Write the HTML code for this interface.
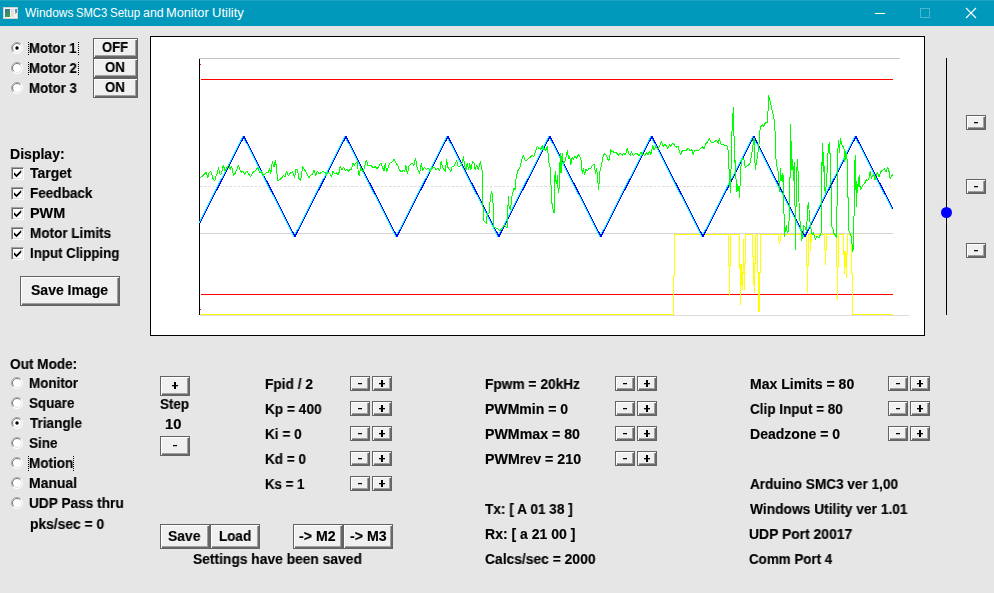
<!DOCTYPE html>
<html><head><meta charset="utf-8"><title>Windows SMC3 Setup and Monitor Utility</title><style>

html,body{margin:0;padding:0}
body{width:994px;height:593px;overflow:hidden;position:relative;background:#e6e6e6;font-family:"Liberation Sans",sans-serif;}
.a{position:absolute}
.tb{left:0;top:0;width:994px;height:26px;background:#0099bc}
.t{position:absolute;white-space:nowrap;font-size:12px;line-height:20px;height:20px;color:#fff;transform-origin:0 0}
.l{position:absolute;white-space:nowrap;font-weight:bold;font-size:14px;line-height:20px;height:20px;color:#000;transform-origin:0 0;will-change:transform;-webkit-text-stroke:0.15px #000}
.btn{position:absolute;box-sizing:border-box;background:#f0f0f0;border:1px solid #646464;box-shadow:inset 1px 1px 0 0 #fff,inset -1px -1px 0 0 #696969,inset -2px -2px 0 0 #a0a0a0}
.cb{position:absolute;width:13px;height:13px;box-sizing:border-box;background:#fff;border:1px solid;border-color:#a0a0a0 #fff #fff #a0a0a0;box-shadow:inset 1px 1px 0 0 #696969,inset -1px -1px 0 0 #e3e3e3}
.chart{position:absolute;left:150px;top:36px;width:775px;height:300px;box-sizing:border-box;background:#fff;border:1px solid #000}

</style></head><body>
<div class="a tb"></div>
<div class="a" style="left:0;top:0;width:994px;height:1px;background:#1aa3c3"></div>
<svg class="a" style="left:3px;top:7px" width="16" height="13" viewBox="0 0 16 13"><defs><linearGradient id="ig" x1="0" y1="0" x2="0.6" y2="1"><stop offset="0" stop-color="#3a6ea5"/><stop offset="1" stop-color="#3f9c4a"/></linearGradient></defs><rect x="0.5" y="0.5" width="14" height="11" fill="#f4f4f4" stroke="#d8d0d0"/><rect x="2" y="2" width="5" height="8" fill="url(#ig)"/><rect x="8" y="2" width="3" height="8" fill="#e0e0e0"/><rect x="12" y="2" width="2" height="4" fill="#5b8fc7"/><rect x="12" y="5" width="1" height="2" fill="#7fc07f"/></svg>
<svg class="a" style="left:860px;top:0" width="134" height="26" viewBox="860 0 134 26"><rect x="875" y="13" width="10" height="1" fill="#fff"/><rect x="920.5" y="8.5" width="9" height="9" fill="none" stroke="#4db5cf" stroke-width="1"/><path d="M966 8 L976 18 M976 8 L966 18" stroke="#fff" stroke-width="1.1" fill="none"/></svg>
<div class="chart"></div>
<svg class="a" style="left:150px;top:36px" width="775" height="300" viewBox="150 36 775 300" shape-rendering="crispEdges">
<rect x="199" y="58" width="701" height="1" fill="#c4c4c4"/>
<rect x="199" y="59" width="1" height="256" fill="#000"/>
<rect x="200" y="315" width="709" height="1" fill="#dcdcdc"/>
<line x1="200" y1="186.5" x2="893" y2="186.5" stroke="#dedede" stroke-width="1" stroke-dasharray="2.6 1.6"/>
<rect x="200" y="233" width="693" height="1" fill="#d4d4d4"/>
<rect x="201" y="79" width="692" height="1" fill="#ff0000"/>
<rect x="201" y="294" width="692" height="1" fill="#ff0000"/>
<rect x="200" y="64" width="1" height="1" fill="#ff0000"/>
<rect x="200" y="309" width="1" height="1" fill="#ff0000"/>
</svg>
<svg class="a" style="left:150px;top:36px" width="775" height="300" viewBox="150 36 775 300">
<path d="M200 314.5 L673.5 314.5 L673.5 275 L674.5 275 L674.5 234.5 L728.5 234.5 L728.5 265 L729.5 265 L729.5 295.5 L729.5 265 L730.6 265 L730.6 234.5 L739.5 234.5 L739.5 268.7 L740.3 268.7 L740.3 304.8 L740.8 264.3 L741.3 285.7 L741.8 264.3 L742.3 285.7 L742.8 289.8 L743.4 239 L744.3 289.8 L744.3 262 L745.6 262 L745.6 234.5 L752.4 234.5 L752.4 256 L753.5 256 L753.5 284.6 L754 264 L754.5 292.8 L755 263 L755.6 263 L755.6 234.5 L757.3 234.5 L757.3 272.5 L758.3 272.5 L758.5 311.7 L759 272.5 L759.5 311.7 L759.8 272.5 L760.8 272.5 L760.8 234.5 L778.5 234.5 L778.5 238 L779.5 243.6 L780.5 238 L780.5 234.5 L806.3 234.5 L806.3 265.6 L807.4 265.6 L807.4 292.6 L807.4 265.6 L808.4 265.6 L808.4 234.5 L810.3 234.5 L810.3 251 L810.3 234.5 L811.5 234.5 L811.5 242 L811.5 234.5 L824.5 234.5 L824.5 249.8 L825.3 249.8 L825.3 264.9 L825.3 249.8 L826 249.8 L826 234.5 L836.4 234.5 L836.4 266.4 L837.5 266.4 L837.5 299.7 L837.5 266.4 L838.8 266.4 L838.8 234.5 L843.6 234.5 L844 254.5 L844.4 274.4 L844.8 251.4 L845.3 267.2 L845.8 251.4 L846.4 277.5 L846.8 254.5 L847.5 254.5 L847.5 234.5 L851.5 234.5 L851.5 273.6 L852.5 273.6 L852.5 314.5 L893 314.5" fill="none" stroke="#ffff00" stroke-width="1" stroke-linejoin="miter" shape-rendering="crispEdges"/>
<path d="M199 222.775 L243 136.5 L294 236.5 L345 136.5 L396 236.5 L447 136.5 L498 236.5 L549 136.5 L600 236.5 L651 136.5 L702 236.5 L753 136.5 L804 236.5 L855 136.5 L892 209.049" fill="none" stroke="#00ffff" stroke-width="1" stroke-linejoin="bevel" shape-rendering="crispEdges"/>
<path d="M200 222.775 L244 136.5 L295 236.5 L346 136.5 L397 236.5 L448 136.5 L499 236.5 L550 136.5 L601 236.5 L652 136.5 L703 236.5 L754 136.5 L805 236.5 L856 136.5 L893 209.049" fill="none" stroke="#0000ff" stroke-width="1" stroke-linejoin="bevel" shape-rendering="crispEdges"/>
<path d="M200.37 177.4 L203.49 175.28 L205.98 172.16 L207.85 177.77 L209.1 172.78 L210.97 171.53 L212.84 178.4 L214.71 180.89 L215.96 175.9 L217.21 174.03 L218.46 167.17 L220.33 175.28 L221.57 172.78 L223.45 164.67 L224.69 170.91 L226.56 168.42 L228.68 164.67 L230.31 169.66 L231.55 165.92 L233.43 175.28 L235.3 173.41 L238.42 164.67 L239.66 169.66 L241.53 172.16 L243.41 171.53 L244.9 174.65 L246.52 170.91 L248.4 173.41 L250.52 176.9 L252.14 173.41 L254.01 171.53 L255.88 170.29 L257.75 167.17 L259.62 172.78 L261.49 171.53 L263.37 175.28 L265.24 174.03 L266.48 172.16 L268.36 172.78 L269.6 168.42 L270.85 173.41 L272.35 161.55 L273.97 167.17 L275.47 159.68 L276.46 168.42 L277.71 180.89 L279.58 179.64 L281.45 178.4 L283.33 175.28 L285.2 177.15 L286.44 170.91 L288.32 175.9 L289.56 174.03 L291.43 172.16 L292.68 171.53 L294.55 177.77 L295.8 169.66 L297.3 169.04 L298.92 178.4 L300.54 180.89 L302.66 166.54 L304.53 169.66 L306.4 172.78 L308.9 177.77 L310.77 175.28 L312.64 174.03 L313.89 169.66 L315.76 175.9 L316 174.65 L317.5 170.91 L319.12 174.03 L320.99 172.78 L322.86 171.53 L324.73 172.16 L326.6 175.28 L327.85 172.16 L329.72 173.41 L331.59 176.52 L332.84 170.91 L334.71 174.03 L336.58 172.78 L338.46 175.28 L340.33 165.92 L341.57 170.29 L343.45 167.17 L345.32 170.29 L347.19 169.04 L348.68 171.53 L350.31 169.04 L351.55 169.66 L352.8 162.8 L354.05 165.3 L355.92 162.8 L357.17 161.55 L358.42 173.41 L359.41 175.9 L360.66 166.54 L362.16 171.53 L364.03 169.04 L365.28 163.43 L366.52 159.68 L367.77 165.92 L369.64 165.3 L371.51 165.92 L373.39 167.79 L375.26 166.54 L377.13 169.04 L379 165.92 L380.87 162.8 L382.74 167.79 L383.99 170.91 L385.24 163.43 L386.73 172.16 L388.36 166.54 L390.23 162.8 L392.1 162.18 L393.97 159.06 L395.84 162.8 L397.71 165.3 L398.96 169.04 L401.45 172.16 L403.33 170.29 L404.82 171.53 L405.82 164.67 L407.44 174.03 L408.94 165.92 L410.81 164.05 L412.68 163.43 L413.93 165.92 L415.43 157.81 L416.8 165.92 L418.3 170.91 L419.54 173.41 L421.41 162.8 L422.66 170.91 L424.53 167.17 L426.4 169.66 L428.28 167.79 L430.15 171.53 L432.02 168.42 L433.89 167.17 L435.76 169.04 L436 170.29 L437.87 168.42 L439.74 170.29 L441.24 160.93 L442.49 167.17 L444.11 169.66 L445.36 171.53 L446.6 159.06 L447.85 167.17 L449.72 169.66 L450.97 171.53 L452.22 166.54 L454.09 165.92 L455.96 162.18 L456.58 159.68 L457.83 165.92 L459.7 166.54 L461.57 164.67 L462.82 160.93 L463.45 156.56 L464.69 165.92 L465.94 170.29 L467.19 163.43 L468.68 169.66 L469.68 163.43 L470.93 169.66 L472.43 161.55 L474.05 162.8 L475.3 170.29 L476.54 165.3 L478.42 169.66 L480.29 161.55 L481.53 167.17 L482.41 172.16 L482.78 185.88 L483.16 219.94 L484.65 221.81 L486.52 223.68 L487.15 213.7 L489.02 213.08 L490.27 198.73 L491.51 191.25 L492.76 196.24 L493.39 212.46 L494.01 227.43 L495.88 228.05 L497.75 228.67 L499.87 230.54 L502.12 228.05 L503.99 225.55 L505.86 226.8 L507.11 227.43 L507.73 211.21 L508.36 196.24 L508.98 206.22 L510.23 209.96 L510.85 206.22 L512.1 194.99 L512.72 193.99 L513.59 188.38 L515.22 189.62 L515.84 180.89 L516.46 175.9 L517.71 170.91 L519.58 168.42 L520.83 163.43 L522.08 158.44 L523.33 155.32 L524.82 159.68 L526.44 160.93 L528.32 158.44 L530.19 157.19 L532.06 155.32 L533.93 156.56 L535.8 150.95 L537.3 145.96 L538.92 148.46 L540.79 149.08 L542.29 145.34 L543.53 150.33 L544.53 148.46 L545.78 150.95 L547.28 145.96 L548.28 155.94 L548.9 162.18 L550.15 167.17 L550.77 180.89 L551.39 190.87 L551.39 203.1 L552.64 203.72 L553.27 213.08 L554.26 212.46 L554.51 192.5 L555.14 170.91 L555.76 180.89 L556.62 183.39 L557.5 175.28 L558.25 193.37 L559.12 188.38 L559.74 168.42 L560.37 153.45 L560.99 173.41 L561.61 162.18 L562.24 152.82 L563.24 163.43 L564.73 162.18 L565.98 157.19 L567.48 150.33 L568.48 158.44 L569.72 156.56 L570.72 165.3 L572.22 157.19 L573.47 159.68 L574.71 155.94 L576.58 158.44 L578.46 154.69 L579.7 155.94 L580.95 159.68 L582.2 173.41 L583.45 168.42 L584.44 175.28 L585.94 169.66 L587.81 170.91 L589.06 167.79 L590.31 169.04 L592.18 165.92 L594.05 164.05 L595.67 174.03 L596.54 167.79 L597.79 179.64 L598.42 190.25 L599.04 183.39 L599.66 172.78 L600.91 167.17 L602.16 160.93 L603.41 155.32 L604.65 153.45 L606.52 155.94 L608.4 160.31 L609.64 159.06 L610.52 149.08 L612.14 151.57 L614.01 152.2 L616.5 152.82 L618.38 155.32 L620.25 152.82 L622.12 155.32 L623.99 152.82 L625.24 155.32 L627.36 148.46 L628.98 154.07 L630.23 155.32 L631.47 151.57 L633.35 155.32 L635.22 154.07 L637.09 153.45 L638.96 155.94 L640.83 152.2 L642.7 154.07 L644.57 155.32 L646.44 152.82 L648.32 154.69 L649.56 150.95 L650.81 155.32 L652.68 145.34 L653.93 149.7 L655.8 146.58 L657.67 149.08 L659.54 145.96 L661.41 141.59 L663.29 146.58 L665.16 144.09 L667.65 148.46 L669.52 144.71 L670.77 146.58 L672.64 142.84 L674.51 145.34 L676.38 147.21 L677.87 145.96 L679.12 150.33 L680.62 155.32 L682.24 150.95 L684.11 150.33 L685.98 150.95 L688.48 147.83 L690.35 150.95 L691.59 149.08 L693.22 154.69 L694.71 150.33 L696.58 150.95 L698.46 150.33 L700.33 148.46 L702.2 146.58 L704.07 149.08 L705.94 143.47 L707.81 141.59 L709.43 138.48 L710.93 142.22 L712.8 142.84 L714.67 141.59 L716.54 140.35 L718.17 143.47 L719.41 138.48 L721.16 144.71 L722.78 144.09 L724.65 145.34 L726.52 145.34 L727.77 147.21 L728.64 158.44 L729.02 169.04 L729.64 177.15 L730.27 193.37 L730.89 175.9 L731.51 142.22 L732.39 123.04 L733.39 106.82 L734.01 136.14 L734.38 163.43 L735.26 159.68 L735.88 175.9 L736.5 192.12 L737.38 184.01 L738 190.87 L739 185.88 L739.62 197.73 L740.25 179.64 L740.87 167.17 L741.49 160.93 L742.74 158.44 L743.99 159.68 L745.24 167.17 L747.11 165.92 L748.98 164.67 L750.23 162.8 L751.47 155.94 L752.72 147.21 L753.97 137.85 L754.59 150.95 L755.22 169.66 L756.46 162.18 L757.71 154.69 L758.96 144.71 L760.21 127.41 L762.7 124.29 L763.33 126.78 L765.2 123.04 L767.69 122.42 L768.07 108.69 L768.56 94.97 L769.56 99.96 L770.81 103.7 L772.06 109.94 L773.93 117.43 L775.18 133.64 L775.8 157.19 L777.05 167.17 L778.54 173.41 L779.54 192.12 L780.54 168.42 L781.41 180.89 L782.29 173.41 L783.04 182.14 L783.53 174.65 L783.91 204.97 L784.28 236.78 L785.16 231.17 L786.4 225.55 L787.28 233.04 L788.9 231.17 L789.52 178.4 L790.15 177.15 L790.52 124.29 L791.39 152.82 L792.02 169.66 L792.64 159.06 L793.89 180.89 L794.51 162.18 L795.51 249.88 L796.38 175.9 L797.63 159.06 L799.5 217.45 L800.95 227.43 L801.57 241.15 L802.82 234.91 L803.69 225.55 L805.32 227.43 L806.56 231.17 L807.19 217.45 L808.19 201.85 L809.06 209.96 L809.68 219.94 L810.93 228.67 L812.18 234.91 L813.43 232.42 L815.3 239.28 L817.17 236.16 L819.04 238.03 L820.66 233.66 L821.53 231.17 L821.53 184.63 L822.41 142.84 L823.16 172.16 L823.65 152.2 L824.65 188.38 L825.28 193.37 L826.52 182.14 L827.4 165.92 L828.4 145.34 L829.64 142.22 L829.89 153.45 L830.64 152.82 L831.51 226.18 L832.76 228.05 L834.01 233.66 L835.26 234.91 L836.5 237.41 L836.88 206.22 L837.75 204.97 L837.5 158.44 L838.38 140.35 L839.37 152.82 L840.5 137.85 L841.49 144.71 L842.74 145.96 L843.99 148.46 L844.86 162.18 L845.61 150.95 L846.48 154.69 L847.36 160.93 L847.73 197.11 L848.11 197.49 L848.98 231.17 L850.23 233.66 L851.47 237.41 L852.1 244.89 L852.72 252.38 L853.59 244.89 L853.97 216.2 L854.84 214.95 L854.34 167.17 L855.47 155.32 L855.84 185.88 L856.84 207.47 L856.84 180.89 L857.71 193.37 L858.34 179.64 L859.33 175.28 L860.21 189.62 L862.08 187.13 L863.33 184.63 L865.2 182.14 L866.44 179.64 L867.69 180.89 L868.94 178.4 L870.19 171.53 L871.43 178.4 L872.68 175.9 L873.93 174.65 L875.18 180.27 L876.42 173.41 L877.67 172.78 L878.92 177.15 L880.79 171.53 L882.66 170.29 L884.53 168.42 L885.78 172.16 L887.65 167.17 L888.9 170.91 L890.15 178.4 L891.39 176.52 L892.89 174.03" fill="none" stroke="#00ff00" stroke-width="1" stroke-linejoin="bevel" shape-rendering="crispEdges"/>
</svg>
<div class="a" style="left:946px;top:58px;width:1px;height:257px;background:#000"></div>
<div class="a" style="left:941px;top:207px;width:11px;height:11px;border-radius:50%;background:#0000ff"></div>
<div class="btn" style="left:93px;top:38px;width:45px;height:20px"></div>
<div class="btn" style="left:93px;top:58px;width:45px;height:20px"></div>
<div class="btn" style="left:93px;top:78px;width:45px;height:20px"></div>
<div class="btn" style="left:20px;top:276px;width:100px;height:30px"></div>
<div class="btn" style="left:160px;top:376px;width:30px;height:20px"><div class="a" style="left:11px;top:8px;width:6px;height:1px;background:#000"></div><div class="a" style="left:11px;top:9px;width:6px;height:1px;background:#000;opacity:.3"></div><div class="a" style="left:13px;top:5px;width:2px;height:7px;background:#000"></div></div>
<div class="btn" style="left:160px;top:436px;width:30px;height:20px"><div class="a" style="left:12px;top:8px;width:4px;height:1px;background:#000"></div><div class="a" style="left:12px;top:9px;width:4px;height:1px;background:#000;opacity:.25"></div></div>
<div class="btn" style="left:160px;top:524px;width:50px;height:25px"></div>
<div class="btn" style="left:210px;top:524px;width:50px;height:25px"></div>
<div class="btn" style="left:293px;top:524px;width:50px;height:25px"></div>
<div class="btn" style="left:343px;top:524px;width:50px;height:25px"></div>
<div class="btn" style="left:350px;top:376px;width:20px;height:15px"><div class="a" style="left:7px;top:6px;width:4px;height:1px;background:#000"></div><div class="a" style="left:7px;top:7px;width:4px;height:1px;background:#000;opacity:.25"></div></div>
<div class="btn" style="left:372px;top:376px;width:20px;height:15px"><div class="a" style="left:6px;top:6px;width:6px;height:1px;background:#000"></div><div class="a" style="left:6px;top:7px;width:6px;height:1px;background:#000;opacity:.3"></div><div class="a" style="left:8px;top:3px;width:2px;height:7px;background:#000"></div></div>
<div class="btn" style="left:350px;top:401px;width:20px;height:15px"><div class="a" style="left:7px;top:6px;width:4px;height:1px;background:#000"></div><div class="a" style="left:7px;top:7px;width:4px;height:1px;background:#000;opacity:.25"></div></div>
<div class="btn" style="left:372px;top:401px;width:20px;height:15px"><div class="a" style="left:6px;top:6px;width:6px;height:1px;background:#000"></div><div class="a" style="left:6px;top:7px;width:6px;height:1px;background:#000;opacity:.3"></div><div class="a" style="left:8px;top:3px;width:2px;height:7px;background:#000"></div></div>
<div class="btn" style="left:350px;top:426px;width:20px;height:15px"><div class="a" style="left:7px;top:6px;width:4px;height:1px;background:#000"></div><div class="a" style="left:7px;top:7px;width:4px;height:1px;background:#000;opacity:.25"></div></div>
<div class="btn" style="left:372px;top:426px;width:20px;height:15px"><div class="a" style="left:6px;top:6px;width:6px;height:1px;background:#000"></div><div class="a" style="left:6px;top:7px;width:6px;height:1px;background:#000;opacity:.3"></div><div class="a" style="left:8px;top:3px;width:2px;height:7px;background:#000"></div></div>
<div class="btn" style="left:350px;top:451px;width:20px;height:15px"><div class="a" style="left:7px;top:6px;width:4px;height:1px;background:#000"></div><div class="a" style="left:7px;top:7px;width:4px;height:1px;background:#000;opacity:.25"></div></div>
<div class="btn" style="left:372px;top:451px;width:20px;height:15px"><div class="a" style="left:6px;top:6px;width:6px;height:1px;background:#000"></div><div class="a" style="left:6px;top:7px;width:6px;height:1px;background:#000;opacity:.3"></div><div class="a" style="left:8px;top:3px;width:2px;height:7px;background:#000"></div></div>
<div class="btn" style="left:350px;top:476px;width:20px;height:15px"><div class="a" style="left:7px;top:6px;width:4px;height:1px;background:#000"></div><div class="a" style="left:7px;top:7px;width:4px;height:1px;background:#000;opacity:.25"></div></div>
<div class="btn" style="left:372px;top:476px;width:20px;height:15px"><div class="a" style="left:6px;top:6px;width:6px;height:1px;background:#000"></div><div class="a" style="left:6px;top:7px;width:6px;height:1px;background:#000;opacity:.3"></div><div class="a" style="left:8px;top:3px;width:2px;height:7px;background:#000"></div></div>
<div class="btn" style="left:615px;top:376px;width:20px;height:15px"><div class="a" style="left:7px;top:6px;width:4px;height:1px;background:#000"></div><div class="a" style="left:7px;top:7px;width:4px;height:1px;background:#000;opacity:.25"></div></div>
<div class="btn" style="left:637px;top:376px;width:20px;height:15px"><div class="a" style="left:6px;top:6px;width:6px;height:1px;background:#000"></div><div class="a" style="left:6px;top:7px;width:6px;height:1px;background:#000;opacity:.3"></div><div class="a" style="left:8px;top:3px;width:2px;height:7px;background:#000"></div></div>
<div class="btn" style="left:615px;top:401px;width:20px;height:15px"><div class="a" style="left:7px;top:6px;width:4px;height:1px;background:#000"></div><div class="a" style="left:7px;top:7px;width:4px;height:1px;background:#000;opacity:.25"></div></div>
<div class="btn" style="left:637px;top:401px;width:20px;height:15px"><div class="a" style="left:6px;top:6px;width:6px;height:1px;background:#000"></div><div class="a" style="left:6px;top:7px;width:6px;height:1px;background:#000;opacity:.3"></div><div class="a" style="left:8px;top:3px;width:2px;height:7px;background:#000"></div></div>
<div class="btn" style="left:615px;top:426px;width:20px;height:15px"><div class="a" style="left:7px;top:6px;width:4px;height:1px;background:#000"></div><div class="a" style="left:7px;top:7px;width:4px;height:1px;background:#000;opacity:.25"></div></div>
<div class="btn" style="left:637px;top:426px;width:20px;height:15px"><div class="a" style="left:6px;top:6px;width:6px;height:1px;background:#000"></div><div class="a" style="left:6px;top:7px;width:6px;height:1px;background:#000;opacity:.3"></div><div class="a" style="left:8px;top:3px;width:2px;height:7px;background:#000"></div></div>
<div class="btn" style="left:615px;top:451px;width:20px;height:15px"><div class="a" style="left:7px;top:6px;width:4px;height:1px;background:#000"></div><div class="a" style="left:7px;top:7px;width:4px;height:1px;background:#000;opacity:.25"></div></div>
<div class="btn" style="left:637px;top:451px;width:20px;height:15px"><div class="a" style="left:6px;top:6px;width:6px;height:1px;background:#000"></div><div class="a" style="left:6px;top:7px;width:6px;height:1px;background:#000;opacity:.3"></div><div class="a" style="left:8px;top:3px;width:2px;height:7px;background:#000"></div></div>
<div class="btn" style="left:888px;top:376px;width:20px;height:15px"><div class="a" style="left:7px;top:6px;width:4px;height:1px;background:#000"></div><div class="a" style="left:7px;top:7px;width:4px;height:1px;background:#000;opacity:.25"></div></div>
<div class="btn" style="left:910px;top:376px;width:20px;height:15px"><div class="a" style="left:6px;top:6px;width:6px;height:1px;background:#000"></div><div class="a" style="left:6px;top:7px;width:6px;height:1px;background:#000;opacity:.3"></div><div class="a" style="left:8px;top:3px;width:2px;height:7px;background:#000"></div></div>
<div class="btn" style="left:888px;top:401px;width:20px;height:15px"><div class="a" style="left:7px;top:6px;width:4px;height:1px;background:#000"></div><div class="a" style="left:7px;top:7px;width:4px;height:1px;background:#000;opacity:.25"></div></div>
<div class="btn" style="left:910px;top:401px;width:20px;height:15px"><div class="a" style="left:6px;top:6px;width:6px;height:1px;background:#000"></div><div class="a" style="left:6px;top:7px;width:6px;height:1px;background:#000;opacity:.3"></div><div class="a" style="left:8px;top:3px;width:2px;height:7px;background:#000"></div></div>
<div class="btn" style="left:888px;top:426px;width:20px;height:15px"><div class="a" style="left:7px;top:6px;width:4px;height:1px;background:#000"></div><div class="a" style="left:7px;top:7px;width:4px;height:1px;background:#000;opacity:.25"></div></div>
<div class="btn" style="left:910px;top:426px;width:20px;height:15px"><div class="a" style="left:6px;top:6px;width:6px;height:1px;background:#000"></div><div class="a" style="left:6px;top:7px;width:6px;height:1px;background:#000;opacity:.3"></div><div class="a" style="left:8px;top:3px;width:2px;height:7px;background:#000"></div></div>
<div class="btn" style="left:966px;top:115px;width:20px;height:15px"><div class="a" style="left:7px;top:6px;width:4px;height:1px;background:#000"></div><div class="a" style="left:7px;top:7px;width:4px;height:1px;background:#000;opacity:.25"></div></div>
<div class="btn" style="left:966px;top:179px;width:20px;height:15px"><div class="a" style="left:7px;top:6px;width:4px;height:1px;background:#000"></div><div class="a" style="left:7px;top:7px;width:4px;height:1px;background:#000;opacity:.25"></div></div>
<div class="btn" style="left:966px;top:243px;width:20px;height:15px"><div class="a" style="left:7px;top:6px;width:4px;height:1px;background:#000"></div><div class="a" style="left:7px;top:7px;width:4px;height:1px;background:#000;opacity:.25"></div></div>
<svg class="a" style="left:11px;top:42px" width="12" height="12" viewBox="0 0 12 12"><circle cx="6" cy="6" r="5.5" fill="#fff"/><path d="M2.1 9.9 A5.5 5.5 0 0 1 9.9 2.1" fill="none" stroke="#a8a8a8" stroke-width="1"/><path d="M2.8 9.2 A4.5 4.5 0 0 1 9.2 2.8" fill="none" stroke="#7a7a7a" stroke-width="1"/><path d="M9.9 2.1 A5.5 5.5 0 0 1 2.1 9.9" fill="none" stroke="#fff" stroke-width="1"/><path d="M9.2 2.8 A4.5 4.5 0 0 1 2.8 9.2" fill="none" stroke="#e3e3e3" stroke-width="1"/><circle cx="6" cy="6" r="1.7" fill="#000"/></svg>
<svg class="a" style="left:11px;top:62px" width="12" height="12" viewBox="0 0 12 12"><circle cx="6" cy="6" r="5.5" fill="#fff"/><path d="M2.1 9.9 A5.5 5.5 0 0 1 9.9 2.1" fill="none" stroke="#a8a8a8" stroke-width="1"/><path d="M2.8 9.2 A4.5 4.5 0 0 1 9.2 2.8" fill="none" stroke="#7a7a7a" stroke-width="1"/><path d="M9.9 2.1 A5.5 5.5 0 0 1 2.1 9.9" fill="none" stroke="#fff" stroke-width="1"/><path d="M9.2 2.8 A4.5 4.5 0 0 1 2.8 9.2" fill="none" stroke="#e3e3e3" stroke-width="1"/></svg>
<svg class="a" style="left:11px;top:82px" width="12" height="12" viewBox="0 0 12 12"><circle cx="6" cy="6" r="5.5" fill="#fff"/><path d="M2.1 9.9 A5.5 5.5 0 0 1 9.9 2.1" fill="none" stroke="#a8a8a8" stroke-width="1"/><path d="M2.8 9.2 A4.5 4.5 0 0 1 9.2 2.8" fill="none" stroke="#7a7a7a" stroke-width="1"/><path d="M9.9 2.1 A5.5 5.5 0 0 1 2.1 9.9" fill="none" stroke="#fff" stroke-width="1"/><path d="M9.2 2.8 A4.5 4.5 0 0 1 2.8 9.2" fill="none" stroke="#e3e3e3" stroke-width="1"/></svg>
<svg class="a" style="left:11px;top:377px" width="12" height="12" viewBox="0 0 12 12"><circle cx="6" cy="6" r="5.5" fill="#fff"/><path d="M2.1 9.9 A5.5 5.5 0 0 1 9.9 2.1" fill="none" stroke="#a8a8a8" stroke-width="1"/><path d="M2.8 9.2 A4.5 4.5 0 0 1 9.2 2.8" fill="none" stroke="#7a7a7a" stroke-width="1"/><path d="M9.9 2.1 A5.5 5.5 0 0 1 2.1 9.9" fill="none" stroke="#fff" stroke-width="1"/><path d="M9.2 2.8 A4.5 4.5 0 0 1 2.8 9.2" fill="none" stroke="#e3e3e3" stroke-width="1"/></svg>
<svg class="a" style="left:11px;top:397px" width="12" height="12" viewBox="0 0 12 12"><circle cx="6" cy="6" r="5.5" fill="#fff"/><path d="M2.1 9.9 A5.5 5.5 0 0 1 9.9 2.1" fill="none" stroke="#a8a8a8" stroke-width="1"/><path d="M2.8 9.2 A4.5 4.5 0 0 1 9.2 2.8" fill="none" stroke="#7a7a7a" stroke-width="1"/><path d="M9.9 2.1 A5.5 5.5 0 0 1 2.1 9.9" fill="none" stroke="#fff" stroke-width="1"/><path d="M9.2 2.8 A4.5 4.5 0 0 1 2.8 9.2" fill="none" stroke="#e3e3e3" stroke-width="1"/></svg>
<svg class="a" style="left:11px;top:417px" width="12" height="12" viewBox="0 0 12 12"><circle cx="6" cy="6" r="5.5" fill="#fff"/><path d="M2.1 9.9 A5.5 5.5 0 0 1 9.9 2.1" fill="none" stroke="#a8a8a8" stroke-width="1"/><path d="M2.8 9.2 A4.5 4.5 0 0 1 9.2 2.8" fill="none" stroke="#7a7a7a" stroke-width="1"/><path d="M9.9 2.1 A5.5 5.5 0 0 1 2.1 9.9" fill="none" stroke="#fff" stroke-width="1"/><path d="M9.2 2.8 A4.5 4.5 0 0 1 2.8 9.2" fill="none" stroke="#e3e3e3" stroke-width="1"/><circle cx="6" cy="6" r="1.7" fill="#000"/></svg>
<svg class="a" style="left:11px;top:437px" width="12" height="12" viewBox="0 0 12 12"><circle cx="6" cy="6" r="5.5" fill="#fff"/><path d="M2.1 9.9 A5.5 5.5 0 0 1 9.9 2.1" fill="none" stroke="#a8a8a8" stroke-width="1"/><path d="M2.8 9.2 A4.5 4.5 0 0 1 9.2 2.8" fill="none" stroke="#7a7a7a" stroke-width="1"/><path d="M9.9 2.1 A5.5 5.5 0 0 1 2.1 9.9" fill="none" stroke="#fff" stroke-width="1"/><path d="M9.2 2.8 A4.5 4.5 0 0 1 2.8 9.2" fill="none" stroke="#e3e3e3" stroke-width="1"/></svg>
<svg class="a" style="left:11px;top:457px" width="12" height="12" viewBox="0 0 12 12"><circle cx="6" cy="6" r="5.5" fill="#fff"/><path d="M2.1 9.9 A5.5 5.5 0 0 1 9.9 2.1" fill="none" stroke="#a8a8a8" stroke-width="1"/><path d="M2.8 9.2 A4.5 4.5 0 0 1 9.2 2.8" fill="none" stroke="#7a7a7a" stroke-width="1"/><path d="M9.9 2.1 A5.5 5.5 0 0 1 2.1 9.9" fill="none" stroke="#fff" stroke-width="1"/><path d="M9.2 2.8 A4.5 4.5 0 0 1 2.8 9.2" fill="none" stroke="#e3e3e3" stroke-width="1"/></svg>
<svg class="a" style="left:11px;top:477px" width="12" height="12" viewBox="0 0 12 12"><circle cx="6" cy="6" r="5.5" fill="#fff"/><path d="M2.1 9.9 A5.5 5.5 0 0 1 9.9 2.1" fill="none" stroke="#a8a8a8" stroke-width="1"/><path d="M2.8 9.2 A4.5 4.5 0 0 1 9.2 2.8" fill="none" stroke="#7a7a7a" stroke-width="1"/><path d="M9.9 2.1 A5.5 5.5 0 0 1 2.1 9.9" fill="none" stroke="#fff" stroke-width="1"/><path d="M9.2 2.8 A4.5 4.5 0 0 1 2.8 9.2" fill="none" stroke="#e3e3e3" stroke-width="1"/></svg>
<svg class="a" style="left:11px;top:497px" width="12" height="12" viewBox="0 0 12 12"><circle cx="6" cy="6" r="5.5" fill="#fff"/><path d="M2.1 9.9 A5.5 5.5 0 0 1 9.9 2.1" fill="none" stroke="#a8a8a8" stroke-width="1"/><path d="M2.8 9.2 A4.5 4.5 0 0 1 9.2 2.8" fill="none" stroke="#7a7a7a" stroke-width="1"/><path d="M9.9 2.1 A5.5 5.5 0 0 1 2.1 9.9" fill="none" stroke="#fff" stroke-width="1"/><path d="M9.2 2.8 A4.5 4.5 0 0 1 2.8 9.2" fill="none" stroke="#e3e3e3" stroke-width="1"/></svg>
<div class="cb" style="left:11px;top:167px"><svg class="a" style="left:1px;top:1px" width="9" height="9" viewBox="0 0 9 9"><path d="M1 3.3 L3.5 5.8 L8.2 1.1 L8.2 3.6 L3.5 8.3 L1 5.8 Z" fill="#000"/></svg></div>
<div class="cb" style="left:11px;top:187px"><svg class="a" style="left:1px;top:1px" width="9" height="9" viewBox="0 0 9 9"><path d="M1 3.3 L3.5 5.8 L8.2 1.1 L8.2 3.6 L3.5 8.3 L1 5.8 Z" fill="#000"/></svg></div>
<div class="cb" style="left:11px;top:207px"><svg class="a" style="left:1px;top:1px" width="9" height="9" viewBox="0 0 9 9"><path d="M1 3.3 L3.5 5.8 L8.2 1.1 L8.2 3.6 L3.5 8.3 L1 5.8 Z" fill="#000"/></svg></div>
<div class="cb" style="left:11px;top:227px"><svg class="a" style="left:1px;top:1px" width="9" height="9" viewBox="0 0 9 9"><path d="M1 3.3 L3.5 5.8 L8.2 1.1 L8.2 3.6 L3.5 8.3 L1 5.8 Z" fill="#000"/></svg></div>
<div class="cb" style="left:11px;top:247px"><svg class="a" style="left:1px;top:1px" width="9" height="9" viewBox="0 0 9 9"><path d="M1 3.3 L3.5 5.8 L8.2 1.1 L8.2 3.6 L3.5 8.3 L1 5.8 Z" fill="#000"/></svg></div>
<div class="a" style="left:28px;top:42px;width:51px;height:13px;box-sizing:border-box;border-left:1px dotted #000;border-right:1px dotted #000"></div>
<div class="a" style="left:28px;top:62px;width:51px;height:13px;box-sizing:border-box;border-left:1px dotted #000;border-right:1px dotted #000"></div>
<div class="a" style="left:28px;top:456px;width:46px;height:15px;box-sizing:border-box;border-left:1px dotted #000;border-right:1px dotted #000"></div>
<div class="l" id="l0" style="left:28.94px;top:38.00px;transform:scale(0.9401,1.0000)">Motor 1</div>
<div class="l" id="l1" style="left:28.94px;top:58.00px;transform:scale(0.9460,1.0000)">Motor 2</div>
<div class="l" id="l2" style="left:28.94px;top:78.00px;transform:scale(0.9467,1.0000)">Motor 3</div>
<div class="l" id="l3" style="left:102.38px;top:37.00px;transform:scale(0.9279,1.0000)">OFF</div>
<div class="l" id="l4" style="left:105.28px;top:57.00px;transform:scale(0.9371,1.0000)">ON</div>
<div class="l" id="l5" style="left:105.28px;top:77.00px;transform:scale(0.9371,1.0000)">ON</div>
<div class="l" id="l6" style="left:9.99px;top:144.00px;transform:scale(1.0042,1.0000)">Display:</div>
<div class="l" id="l7" style="left:29.95px;top:163.00px;transform:scale(0.9966,1.0000)">Target</div>
<div class="l" id="l8" style="left:29.72px;top:183.00px;transform:scale(0.9670,1.0000)">Feedback</div>
<div class="l" id="l9" style="left:29.87px;top:203.00px;transform:scale(1.0298,1.0000)">PWM</div>
<div class="l" id="l10" style="left:29.72px;top:223.00px;transform:scale(0.9650,1.0000)">Motor Limits</div>
<div class="l" id="l11" style="left:29.73px;top:243.00px;transform:scale(0.9501,1.0000)">Input Clipping</div>
<div class="l" id="l12" style="left:30.92px;top:280.00px;transform:scale(1.0004,1.0000)">Save Image</div>
<div class="l" id="l13" style="left:10.06px;top:354.00px;transform:scale(0.9708,1.0000)">Out Mode:</div>
<div class="l" id="l14" style="left:29.13px;top:373.00px;transform:scale(0.9571,1.0000)">Monitor</div>
<div class="l" id="l15" style="left:29.35px;top:393.00px;transform:scale(0.9547,1.0000)">Square</div>
<div class="l" id="l16" style="left:29.76px;top:413.00px;transform:scale(0.9663,1.0000)">Triangle</div>
<div class="l" id="l17" style="left:29.34px;top:433.00px;transform:scale(0.9648,1.0000)">Sine</div>
<div class="l" id="l18" style="left:29.12px;top:453.00px;transform:scale(0.9655,1.0000)">Motion</div>
<div class="l" id="l19" style="left:29.10px;top:473.00px;transform:scale(0.9962,1.0000)">Manual</div>
<div class="l" id="l20" style="left:29.20px;top:493.00px;transform:scale(0.9759,1.0000)">UDP Pass thru</div>
<div class="l" id="l21" style="left:29.56px;top:514.00px;transform:scale(0.9884,1.0000)">pks/sec = 0</div>
<div class="l" id="l22" style="left:160.05px;top:394.00px;transform:scale(0.9577,1.0000)">Step</div>
<div class="l" id="l23" style="left:164.92px;top:414.00px;transform:scale(1.0581,1.0000)">10</div>
<div class="l" id="l24" style="left:168.18px;top:526.00px;transform:scale(0.9917,1.0000)">Save</div>
<div class="l" id="l25" style="left:219.12px;top:526.00px;transform:scale(0.9613,1.0000)">Load</div>
<div class="l" id="l26" style="left:299.27px;top:526.00px;transform:scale(1.0108,1.0000)">-&gt; M2</div>
<div class="l" id="l27" style="left:349.52px;top:526.00px;transform:scale(1.0145,1.0000)">-&gt; M3</div>
<div class="l" id="l28" style="left:193.43px;top:549.00px;transform:scale(0.9861,1.0000)">Settings have been saved</div>
<div class="l" id="l29" style="left:264.81px;top:374.00px;transform:scale(0.9783,1.0000)">Fpid / 2</div>
<div class="l" id="l30" style="left:264.81px;top:399.00px;transform:scale(0.9754,1.0000)">Kp = 400</div>
<div class="l" id="l31" style="left:264.82px;top:424.00px;transform:scale(0.9702,1.0000)">Ki = 0</div>
<div class="l" id="l32" style="left:264.82px;top:449.00px;transform:scale(0.9684,1.0000)">Kd = 0</div>
<div class="l" id="l33" style="left:264.83px;top:474.00px;transform:scale(0.9490,1.0000)">Ks = 1</div>
<div class="l" id="l34" style="left:484.71px;top:374.00px;transform:scale(0.9806,1.0000)">Fpwm = 20kHz</div>
<div class="l" id="l35" style="left:484.69px;top:399.00px;transform:scale(1.0039,1.0000)">PWMmin = 0</div>
<div class="l" id="l36" style="left:484.68px;top:424.00px;transform:scale(1.0131,1.0000)">PWMmax = 80</div>
<div class="l" id="l37" style="left:484.68px;top:449.00px;transform:scale(1.0160,1.0000)">PWMrev = 210</div>
<div class="l" id="l38" style="left:485.35px;top:499.00px;transform:scale(0.9752,1.0000)">Tx: [ A 01 38 ]</div>
<div class="l" id="l39" style="left:484.69px;top:524.00px;transform:scale(1.0016,1.0000)">Rx: [ a 21 00 ]</div>
<div class="l" id="l40" style="left:484.95px;top:549.00px;transform:scale(0.9888,1.0000)">Calcs/sec = 2000</div>
<div class="l" id="l41" style="left:749.69px;top:374.00px;transform:scale(1.0031,1.0000)">Max Limits = 80</div>
<div class="l" id="l42" style="left:749.97px;top:399.00px;transform:scale(0.9658,1.0000)">Clip Input = 80</div>
<div class="l" id="l43" style="left:749.69px;top:424.00px;transform:scale(1.0024,1.0000)">Deadzone = 0</div>
<div class="l" id="l44" style="left:749.58px;top:474.00px;transform:scale(0.9704,1.0000)">Arduino SMC3 ver 1,00</div>
<div class="l" id="l45" style="left:749.86px;top:499.00px;transform:scale(0.9840,1.0000)">Windows Utility ver 1.01</div>
<div class="l" id="l46" style="left:749.29px;top:524.00px;transform:scale(0.9924,1.0000)">UDP Port 20017</div>
<div class="l" id="l47" style="left:749.47px;top:549.00px;transform:scale(0.9559,1.0000)">Comm Port 4</div>
<div class="t" id="l48" style="left:24.50px;top:3.00px;transform:scale(0.9932,1.0000)">Windows</div>
<div class="t" id="l49" style="left:75.87px;top:3.00px;transform:scale(0.9335,1.0000)">SMC3</div>
<div class="t" id="l50" style="left:109.84px;top:3.00px;transform:scale(0.9607,1.0000)">Setup</div>
<div class="t" id="l51" style="left:143.11px;top:3.00px;transform:scale(1.0311,1.0000)">and</div>
<div class="t" id="l52" style="left:165.93px;top:3.00px;transform:scale(1.0655,1.0000)">Monitor</div>
<div class="t" id="l53" style="left:211.52px;top:3.00px;transform:scale(1.0835,1.0000)">Utility</div>
</body></html>
